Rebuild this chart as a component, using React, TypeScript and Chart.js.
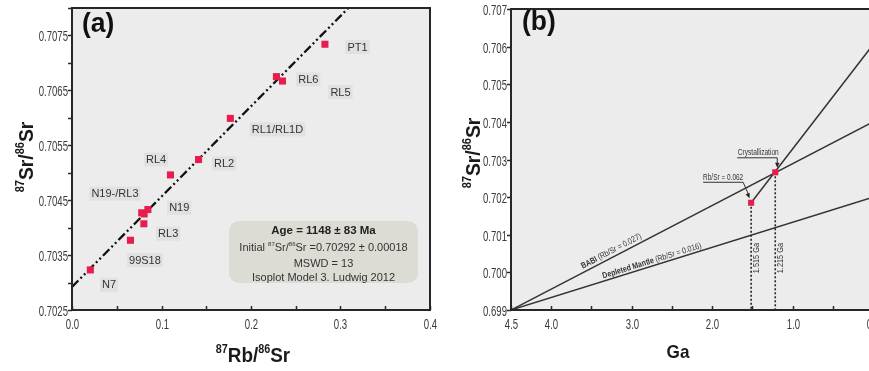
import React, { useEffect, useRef } from 'react';
import { Chart, registerables } from 'chart.js';
Chart.register(...registerables);

// ---------- Panel (a) data ----------
const sampleRb = [0.0205, 0.0653, 0.0803, 0.0779, 0.0806, 0.0848, 0.110, 0.1414, 0.1769, 0.2284, 0.2352, 0.2826];
const sampleSr = [0.70323, 0.70377, 0.70407, 0.70427, 0.70425, 0.70433, 0.70496, 0.70524, 0.70599, 0.70675, 0.70667, 0.70734];
const isoRb = [0, 0.3095];
const isoSr = [0.70292, 0.70801];
const labelNames = ['PT1', 'RL6', 'RL5', 'RL1/RL1D', 'RL4', 'RL2', 'N19-/RL3', 'N19', 'RL3', '99S18', 'N7'];
const labelRb = [0.319, 0.264, 0.300, 0.2296, 0.094, 0.170, 0.048, 0.1198, 0.1075, 0.0815, 0.0414];
const labelSr = [0.70729, 0.70670, 0.70647, 0.70579, 0.70524, 0.70517, 0.70462, 0.70436, 0.70389, 0.70341, 0.70296];
const infoLines = ['Age = 1148 ± 83 Ma', 'Initial 87Sr/86Sr =0.70292 ± 0.00018', 'MSWD = 13', 'Isoplot Model 3. Ludwig 2012'];

// ---------- Panel (b) data ----------
const babiGa = [4.5, 0];
const babiSr = [0.699, 0.704];
const dmGa = [4.5, 0];
const dmSr = [0.699, 0.702];
const evoGa = [1.515, 0];
const evoSr = [0.70185, 0.70605];
const pointGa = [1.515, 1.215];
const pointSr = [0.70185, 0.70266];
const pointAgeLabels = ['1.515 Ga', '1.215 Ga'];

const RED = '#e61e4d';
const SANS = "'Liberation Sans', Arial, Helvetica, sans-serif";
const BG = '#ececec';

type Part = { t: string; sup?: boolean; bold?: boolean };

function drawRich(ctx: CanvasRenderingContext2D, parts: Part[], x: number, y: number, size: number,
  family: string, bold: boolean, align: 'left' | 'center' | 'right', rot = 0, sx = 1, color = '#222') {
  ctx.save();
  ctx.translate(x, y);
  ctx.rotate(rot);
  ctx.scale(sx, 1);
  ctx.fillStyle = color;
  ctx.textBaseline = 'alphabetic';
  ctx.textAlign = 'left';
  const fonts = parts.map(p => `${(p.bold ?? bold) ? 'bold ' : ''}${p.sup ? Math.round(size * 0.55) : size}px ${family}`);
  const widths = parts.map((p, i) => { ctx.font = fonts[i]; return ctx.measureText(p.t).width; });
  const total = widths.reduce((a, b) => a + b, 0);
  let cx = align === 'center' ? -total / 2 : align === 'right' ? -total : 0;
  parts.forEach((p, i) => {
    ctx.font = fonts[i];
    ctx.fillText(p.t, cx, p.sup ? -size * 0.42 : 0);
    cx += widths[i];
  });
  ctx.restore();
}

function srParts(): Part[] {
  return [{ t: '87', sup: true }, { t: 'Sr/' }, { t: '86', sup: true }, { t: 'Sr' }];
}

const fmtXA = (v: number) => { const n = Math.round(v * 100); return n % 10 === 0 ? (n / 100).toFixed(1) : ''; };
const fmtYA = (v: number) => { const n = Math.round(v * 10000); return n % 10 === 5 ? (n / 10000).toFixed(4) : ''; };
const fmtXB = (v: number) => { const n = Math.round(v * 10); if (n === 45) return '4.5'; return n % 10 === 0 ? (n / 10).toFixed(1) : ''; };
const fmtYB = (v: number) => v.toFixed(3);

function drawFrameAndTicks(chart: any, fx: (v: number) => string, fy: (v: number) => string) {
  const ctx = chart.ctx as CanvasRenderingContext2D;
  const ca = chart.chartArea;
  const xs = chart.scales.x;
  const ys = chart.scales.y;
  ctx.save();
  ctx.strokeStyle = '#2a2a2a';
  ctx.lineWidth = 1.5;
  xs.ticks.forEach((t: any) => {
    const px = Math.round(xs.getPixelForValue(t.value)) + 0.5;
    ctx.beginPath();
    ctx.moveTo(px, ca.bottom);
    ctx.lineTo(px, ca.bottom - 4);
    ctx.stroke();
    const lab = fx(t.value);
    if (lab) drawRich(ctx, [{ t: lab }], px, ca.bottom + 18.5, 15, SANS, false, 'center', 0, 0.64, '#3a3a3a');
  });
  ys.ticks.forEach((t: any) => {
    const py = Math.round(ys.getPixelForValue(t.value)) + 0.5;
    ctx.beginPath();
    ctx.moveTo(ca.left, py);
    ctx.lineTo(ca.left - 4, py);
    ctx.stroke();
    const lab = fy(t.value);
    if (lab) drawRich(ctx, [{ t: lab }], ca.left - 4, py + 5.5, 15, SANS, false, 'right', 0, 0.64, '#3a3a3a');
  });
  ctx.lineWidth = 2;
  ctx.strokeStyle = '#262626';
  ctx.strokeRect(ca.left, ca.top, ca.right - ca.left, ca.bottom - ca.top);
  ctx.restore();
}

const bgPlugin = {
  id: 'bgfill',
  beforeDraw(chart: any) {
    const ctx = chart.ctx;
    const ca = chart.chartArea;
    ctx.save();
    ctx.fillStyle = BG;
    ctx.fillRect(ca.left, ca.top, ca.right - ca.left, ca.bottom - ca.top);
    ctx.restore();
  },
};

const panelAPlugin = {
  id: 'panelA',
  beforeDatasetsDraw(chart: any) {
    const ctx = chart.ctx as CanvasRenderingContext2D;
    const ca = chart.chartArea;
    const xs = chart.scales.x;
    const ys = chart.scales.y;
    ctx.save();
    ctx.font = `11px ${SANS}`;
    ctx.textAlign = 'center';
    ctx.textBaseline = 'middle';
    labelNames.forEach((name, i) => {
      const px = xs.getPixelForValue(labelRb[i]);
      const py = ys.getPixelForValue(labelSr[i]);
      const w = ctx.measureText(name).width;
      ctx.fillStyle = '#e1e1e1';
      ctx.fillRect(px - w / 2 - 2, py - 7, w + 4, 14);
      ctx.fillStyle = '#333';
      ctx.fillText(name, px, py + 0.5);
    });
    ctx.restore();
    const bx0 = ca.left + 157, bx1 = ca.left + 346, by0 = ca.top + 213, by1 = ca.top + 275;
    ctx.save();
    ctx.fillStyle = '#dcdcd5';
    ctx.beginPath();
    (ctx as any).roundRect(bx0, by0, bx1 - bx0, by1 - by0, 10);
    ctx.fill();
    ctx.restore();
    const cx = (bx0 + bx1) / 2;
    drawRich(ctx, [{ t: infoLines[0] }], cx, by0 + 13, 11.5, SANS, true, 'center', 0, 1, '#222');
    drawRich(ctx, [{ t: 'Initial ' }, { t: '87', sup: true }, { t: 'Sr/' }, { t: '86', sup: true }, { t: 'Sr =0.70292 ± 0.00018' }],
      cx, by0 + 29.5, 11, SANS, false, 'center', 0, 1, '#333');
    drawRich(ctx, [{ t: infoLines[2] }], cx, by0 + 45.5, 11, SANS, false, 'center', 0, 1, '#333');
    drawRich(ctx, [{ t: infoLines[3] }], cx, by0 + 59.5, 11, SANS, false, 'center', 0, 1, '#333');
  },
  afterDraw(chart: any) {
    const ctx = chart.ctx as CanvasRenderingContext2D;
    drawFrameAndTicks(chart, fmtXA, fmtYA);
    drawRich(ctx, [{ t: '(a)' }], 82, 32, 27, SANS, true, 'left', 0, 0.98, '#111');
    drawRich(ctx, srParts(), 33, 157, 21, SANS, true, 'center', -Math.PI / 2, 0.92, '#1a1a1a');
    drawRich(ctx, [{ t: '87', sup: true }, { t: 'Rb/' }, { t: '86', sup: true }, { t: 'Sr' }], 253, 362, 21, SANS, true, 'center', 0, 0.9, '#1a1a1a');
  },
};

function arrowHead(ctx: CanvasRenderingContext2D, x: number, y: number, ang: number) {
  ctx.beginPath();
  ctx.moveTo(x, y);
  ctx.lineTo(x - 5 * Math.cos(ang) + 2.2 * Math.sin(ang), y - 5 * Math.sin(ang) - 2.2 * Math.cos(ang));
  ctx.lineTo(x - 5 * Math.cos(ang) - 2.2 * Math.sin(ang), y - 5 * Math.sin(ang) + 2.2 * Math.cos(ang));
  ctx.closePath();
  ctx.fill();
}

const panelBPlugin = {
  id: 'panelB',
  afterDatasetsDraw(chart: any) {
    const ctx = chart.ctx as CanvasRenderingContext2D;
    const xs = chart.scales.x;
    const ys = chart.scales.y;
    const lineLabel = (gx: number[], gy: number[], at: number, off: number, bold: string, rest: string) => {
      const x0 = xs.getPixelForValue(gx[0]), y0 = ys.getPixelForValue(gy[0]);
      const x1 = xs.getPixelForValue(gx[1]), y1 = ys.getPixelForValue(gy[1]);
      const ang = Math.atan2(y1 - y0, x1 - x0);
      const fxp = xs.getPixelForValue(at);
      const t = (fxp - x0) / (x1 - x0);
      const fyp = y0 + t * (y1 - y0);
      const cx = fxp + Math.sin(ang) * off;
      const cy = fyp - Math.cos(ang) * off;
      drawRich(ctx, [{ t: bold, bold: true }, { t: rest }], cx - Math.sin(ang) * 3, cy + Math.cos(ang) * 3, 8.5, SANS, false, 'center', ang, 0.82, '#333');
    };
    lineLabel(babiGa, babiSr, 3.22, 6.5, 'BABI', ' (Rb/Sr = 0.027)');
    lineLabel(dmGa, dmSr, 2.73, 5.5, 'Depleted Mantle', ' (Rb/Sr = 0.016)');

    pointGa.forEach((g, i) => {
      const px = xs.getPixelForValue(g);
      const py = ys.getPixelForValue(0.70038);
      drawRich(ctx, [{ t: pointAgeLabels[i] }], px + 7.5, py, 9, SANS, false, 'center', -Math.PI / 2, 0.82, '#333');
    });

    ctx.save();
    ctx.strokeStyle = '#333';
    ctx.fillStyle = '#222';
    ctx.lineWidth = 1;
    const cxp = xs.getPixelForValue(pointGa[1]), cyp = ys.getPixelForValue(pointSr[1]);
    drawRich(ctx, [{ t: 'Crystallization' }], cxp - 17, cyp - 17, 9, SANS, false, 'center', 0, 0.73, '#333');
    ctx.beginPath();
    ctx.moveTo(cxp - 38, cyp - 14.5);
    ctx.lineTo(cxp + 2, cyp - 14.5);
    ctx.lineTo(cxp + 2, cyp - 8);
    ctx.stroke();
    arrowHead(ctx, cxp + 2, cyp - 4.5, Math.PI / 2);
    const rxp = xs.getPixelForValue(pointGa[0]), ryp = ys.getPixelForValue(pointSr[0]);
    drawRich(ctx, [{ t: 'Rb/Sr = 0.062' }], rxp - 28, ryp - 23, 9, SANS, false, 'center', 0, 0.72, '#333');
    ctx.beginPath();
    ctx.moveTo(rxp - 48, ryp - 20.5);
    ctx.lineTo(rxp - 8, ryp - 20.5);
    ctx.lineTo(rxp - 2.5, ryp - 8);
    ctx.stroke();
    arrowHead(ctx, rxp - 1.5, ryp - 4.5, Math.atan2(12.5, 5.5));
    ctx.restore();
  },
  afterDraw(chart: any) {
    const ctx = chart.ctx as CanvasRenderingContext2D;
    drawFrameAndTicks(chart, fmtXB, fmtYB);
    drawRich(ctx, [{ t: '(b)' }], 82, 30, 27, SANS, true, 'left', 0, 0.98, '#111');
    drawRich(ctx, srParts(), 40, 153, 21, SANS, true, 'center', -Math.PI / 2, 0.92, '#1a1a1a');
    drawRich(ctx, [{ t: 'Ga' }], 238, 358, 19, SANS, true, 'center', 0, 0.9, '#1a1a1a');
  },
};

export default function App() {
  const refA = useRef<HTMLCanvasElement>(null);
  const refB = useRef<HTMLCanvasElement>(null);

  useEffect(() => {
    const chartA = new Chart(refA.current as HTMLCanvasElement, {
      type: 'scatter',
      data: {
        datasets: [
          {
            data: sampleRb.map((x, i) => ({ x, y: sampleSr[i] })),
            pointStyle: 'rect', pointRadius: 5, backgroundColor: RED, borderColor: RED, borderWidth: 0,
          } as any,
          {
            data: isoRb.map((x, i) => ({ x, y: isoSr[i] })),
            showLine: true, borderColor: '#111', borderWidth: 2.3, borderDash: [9, 3, 2, 3, 2, 3], pointRadius: 0,
          } as any,
        ],
      },
      options: {
        responsive: false,
        animation: false,
        events: [],
        layout: { padding: { left: 0, top: 8, right: 10, bottom: 0 } },
        plugins: { legend: { display: false }, tooltip: { enabled: false } },
        scales: {
          x: {
            type: 'linear', min: 0, max: 0.4,
            grid: { display: false }, border: { display: false },
            ticks: { stepSize: 0.05, autoSkip: false, display: false },
            afterFit: (s: any) => { s.height = 61; },
          },
          y: {
            type: 'linear', min: 0.7025, max: 0.708,
            grid: { display: false }, border: { display: false },
            ticks: { stepSize: 0.0005, autoSkip: false, display: false },
            afterFit: (s: any) => { s.width = 72; },
          },
        },
      } as any,
      plugins: [bgPlugin, panelAPlugin],
    });

    const chartB = new Chart(refB.current as HTMLCanvasElement, {
      type: 'scatter',
      data: {
        datasets: [
          {
            data: pointGa.map((x, i) => ({ x, y: pointSr[i] })),
            pointStyle: 'rect', pointRadius: 4.3, backgroundColor: RED, borderColor: RED, borderWidth: 0,
          } as any,
          ...pointGa.map((g, i) => ({
            data: [{ x: g, y: pointSr[i] }, { x: g, y: 0.699 }],
            showLine: true, borderColor: '#222', borderWidth: 1.6, borderDash: [2, 2], pointRadius: 0,
          } as any)),
          {
            data: babiGa.map((x, i) => ({ x, y: babiSr[i] })),
            showLine: true, borderColor: '#333', borderWidth: 1.5, pointRadius: 0,
          } as any,
          {
            data: dmGa.map((x, i) => ({ x, y: dmSr[i] })),
            showLine: true, borderColor: '#333', borderWidth: 1.5, pointRadius: 0,
          } as any,
          {
            data: evoGa.map((x, i) => ({ x, y: evoSr[i] })),
            showLine: true, borderColor: '#333', borderWidth: 1.5, pointRadius: 0,
          } as any,
        ],
      },
      options: {
        responsive: false,
        animation: false,
        events: [],
        layout: { padding: { left: 0, top: 9, right: 17, bottom: 0 } },
        plugins: { legend: { display: false }, tooltip: { enabled: false } },
        scales: {
          x: {
            type: 'linear', min: 0, max: 4.5, reverse: true,
            grid: { display: false }, border: { display: false },
            ticks: { stepSize: 0.5, autoSkip: false, display: false },
            afterFit: (s: any) => { s.height = 61; },
          },
          y: {
            type: 'linear', min: 0.699, max: 0.707,
            grid: { display: false }, border: { display: false },
            ticks: { stepSize: 0.001, autoSkip: false, display: false },
            afterFit: (s: any) => { s.width = 71; },
          },
        },
      } as any,
      plugins: [bgPlugin, panelBPlugin],
    });

    return () => { chartA.destroy(); chartB.destroy(); };
  }, []);

  return (
    <div style={{ position: 'fixed', left: 0, top: 0, width: 869, height: 371, overflow: 'hidden', background: '#fff' }}>
      <canvas ref={refA} width={440} height={371} style={{ position: 'absolute', left: 0, top: 0, width: 440, height: 371 }} />
      <canvas ref={refB} width={450} height={371} style={{ position: 'absolute', left: 440, top: 0, width: 450, height: 371 }} />
    </div>
  );
}
